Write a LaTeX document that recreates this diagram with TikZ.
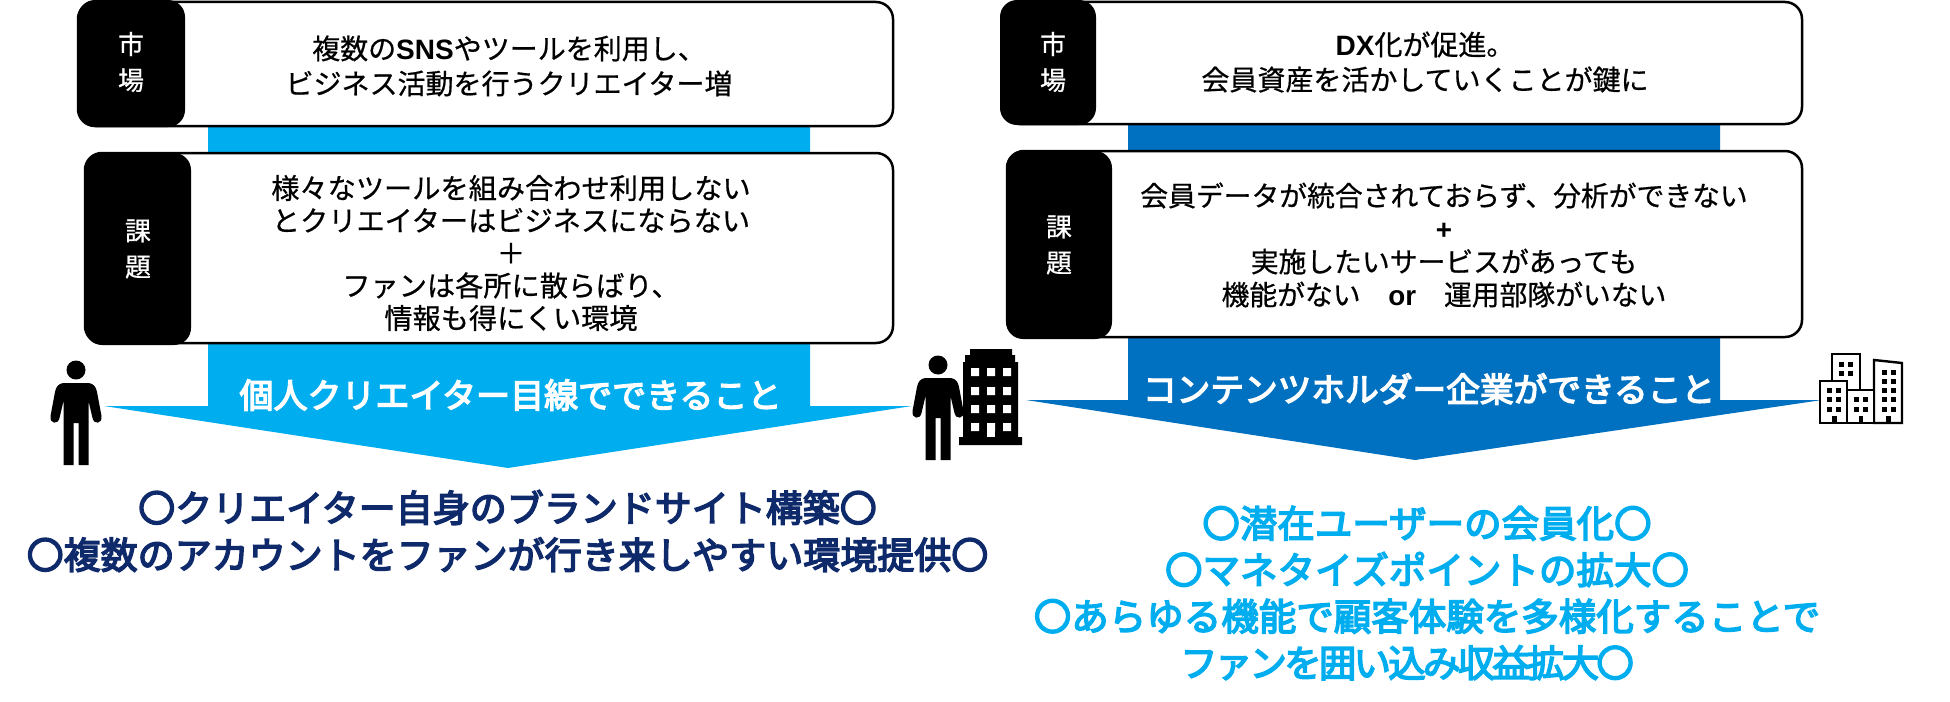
\documentclass[tikz,border=0pt]{standalone}
\usepackage{fontspec}
\setmainfont{Noto Sans CJK JP}
\newfontfamily\medfont[FakeBold=0.6]{Noto Sans CJK JP}
\newfontfamily\heavyfont[FakeBold=4]{Noto Sans CJK JP}
\newfontfamily\latinb[BoldFont=Liberation Sans Bold]{Liberation Sans}
\newcommand{\lat}[1]{{\latinb\bfseries #1}}
\definecolor{lblue}{HTML}{00AEEF}
\definecolor{dblue}{HTML}{0070C0}
\definecolor{navy}{HTML}{0F2A6B}
\tikzset{x=1pt,y=-1pt,
 box/.style={draw=black,line width=2.5pt,fill=white,rounded corners=17pt},
 tab/.style={fill=black,rounded corners=17pt},
 tabtext/.style={text=white,font=\medfont\fontsize{26}{36}\selectfont,align=center},
 bodytext/.style={font=\medfont\fontsize{28}{35}\selectfont,align=center,text=black},
 bandtext/.style={font=\heavyfont\fontsize{34}{40}\selectfont,text=white},
 bigl/.style={font=\heavyfont\fontsize{37}{47}\selectfont,align=center,text=navy},
 bigr/.style={font=\heavyfont\fontsize{37.5}{46.5}\selectfont,align=center,text=lblue},
 bld/.style={draw=black,line width=2.4pt,fill=white,line join=miter}}
\newcommand{\personfig}[2]{%
 \begin{scope}[shift={(#1,#2)}]
 \fill[black] (0,0) circle (9.5);
 \fill[black] (-13,13) -- (13,13) .. controls (18,14) and (20,17) .. (21,22) -- (25.5,46) .. controls (26.5,54) and (18,55) .. (16.5,48) -- (12.5,31) -- (12.5,95) -- (2.5,95) -- (2.5,53) -- (-2.5,53) -- (-2.5,95) -- (-12.5,95) -- (-12.5,31) -- (-16.5,48) .. controls (-18,55) and (-26.5,54) .. (-25.5,46) -- (-21,22) .. controls (-20,17) and (-18,14) .. (-13,13) -- cycle;
 \end{scope}}
\begin{document}
\begin{tikzpicture}
\useasboundingbox (0,0) rectangle (1950,701);
% stems and arrows
\fill[lblue] (208,120) -- (810,120) -- (810,406) -- (912,406) -- (508,468) -- (104,406) -- (208,406) -- cycle;
\fill[dblue] (1128,120) -- (1720,120) -- (1720,400) -- (1822,400) -- (1415,460) -- (1026,400) -- (1128,400) -- cycle;
% left boxes
\node[box,minimum width=815pt,minimum height=124pt] (lm) at (485.5,64) {};
\fill[tab] (78,0) rectangle (185,127);
\node[tabtext] (lmt) at (131,62) {市\\場};
\node[bodytext] (lmb) at (509,66) {複数の\lat{SNS}やツールを利用し、\\ビジネス活動を行うクリエイター増};
\node[box,minimum width=808pt,minimum height=190pt] (lk) at (489,248) {};
\fill[tab] (85,153) rectangle (191,345);
\node[tabtext] (lkt) at (138,249) {課\\題};
\node[bodytext,font=\medfont\fontsize{28.2}{32.5}\selectfont] (lkb) at (511,253) {様々なツールを組み合わせ利用しない\\とクリエイターはビジネスにならない\\＋\\ファンは各所に散らばり、\\情報も得にくい環境};
% right boxes
\node[box,minimum width=799pt,minimum height=122pt] (rm) at (1402.5,63) {};
\fill[tab] (1000,0) rectangle (1096,125);
\node[tabtext] (rmt) at (1053,62) {市\\場};
\node[bodytext] (rmb) at (1425,62) {\lat{DX}化が促進。\\会員資産を活かしていくことが鍵に};
\node[box,minimum width=795pt,minimum height=186pt] (rk) at (1404.5,244) {};
\fill[tab] (1006,151) rectangle (1112,339);
\node[tabtext] (rkt) at (1059,245) {課\\題};
\node[bodytext,font=\medfont\fontsize{27.8}{33}\selectfont] (rkb) at (1444,245) {会員データが統合されておらず、分析ができない\\\lat{+}\\実施したいサービスがあっても\\機能がない\quad\lat{or}\quad 運用部隊がいない};
% band text
\node[bandtext] (lb) at (510.5,395) {個人クリエイター目線でできること};
\node[bandtext,font=\heavyfont\fontsize{33.7}{40}\selectfont] (rb) at (1429,389) {コンテンツホルダー企業ができること};
% big text
\node[bigl] (lt) at (507.5,531) {〇クリエイター自身のブランドサイト構築〇\\〇複数のアカウントをファンが行き来しやすい環境提供〇};
\node[bigr] (rt) at (1427,593) {〇潜在ユーザーの会員化〇\\〇マネタイズポイントの拡大〇\\〇あらゆる機能で顧客体験を多様化することで\\{\addfontfeature{LetterSpace=-7.5}ファンを囲い込み収益拡大〇}\hspace*{40pt}};
% person left
\personfig{76}{370}
% person + office
\fill[black] (970,349) -- (1012,349) -- (1012,355) -- (1015,355) -- (1015,362) -- (1018,362) -- (1018,437) -- (1022,437) -- (1022,445) -- (959,445) -- (959,437) -- (963,437) -- (963,362) -- (965,362) -- (965,355) -- (970,355) -- cycle;
\foreach \yy in {368,387,405,423}{
 \fill[white] (971,\yy) rectangle ++(8,8) (987,\yy) rectangle ++(8,8) (1003,\yy) rectangle ++(8,8);}
\fill[white] (987,423) rectangle ++(8,14);
\personfig{938}{365}
% city
\draw[bld] (1832,385) -- (1832,354) -- (1860,354) -- (1860,390);
\draw[bld] (1874,423) -- (1874,360) -- (1902,363) -- (1902,423) -- cycle;
\draw[bld] (1847,423) -- (1847,390) -- (1874,390) -- (1874,423) -- cycle;
\draw[bld] (1820,423) -- (1820,381) -- (1847,381) -- (1847,423) -- cycle;
\foreach \xx/\yy in {1839/362,1848/362,1839/371,1848/371,
 1827/388,1836/388,1827/397,1836/397,1827/407,1836/407,
 1854/397,1863/397,1854/407,1863/407,
 1882/370,1891/370,1882/379,1891/379,1882/388,1891/388,1882/397,1891/397,1882/407,1891/407}{
 \fill[black] (\xx,\yy) rectangle ++(4.5,4.5);}
\foreach \xx in {1832,1858.5,1886}{\fill[black] (\xx,416) rectangle ++(4.5,7);}
\end{tikzpicture}
\end{document}
